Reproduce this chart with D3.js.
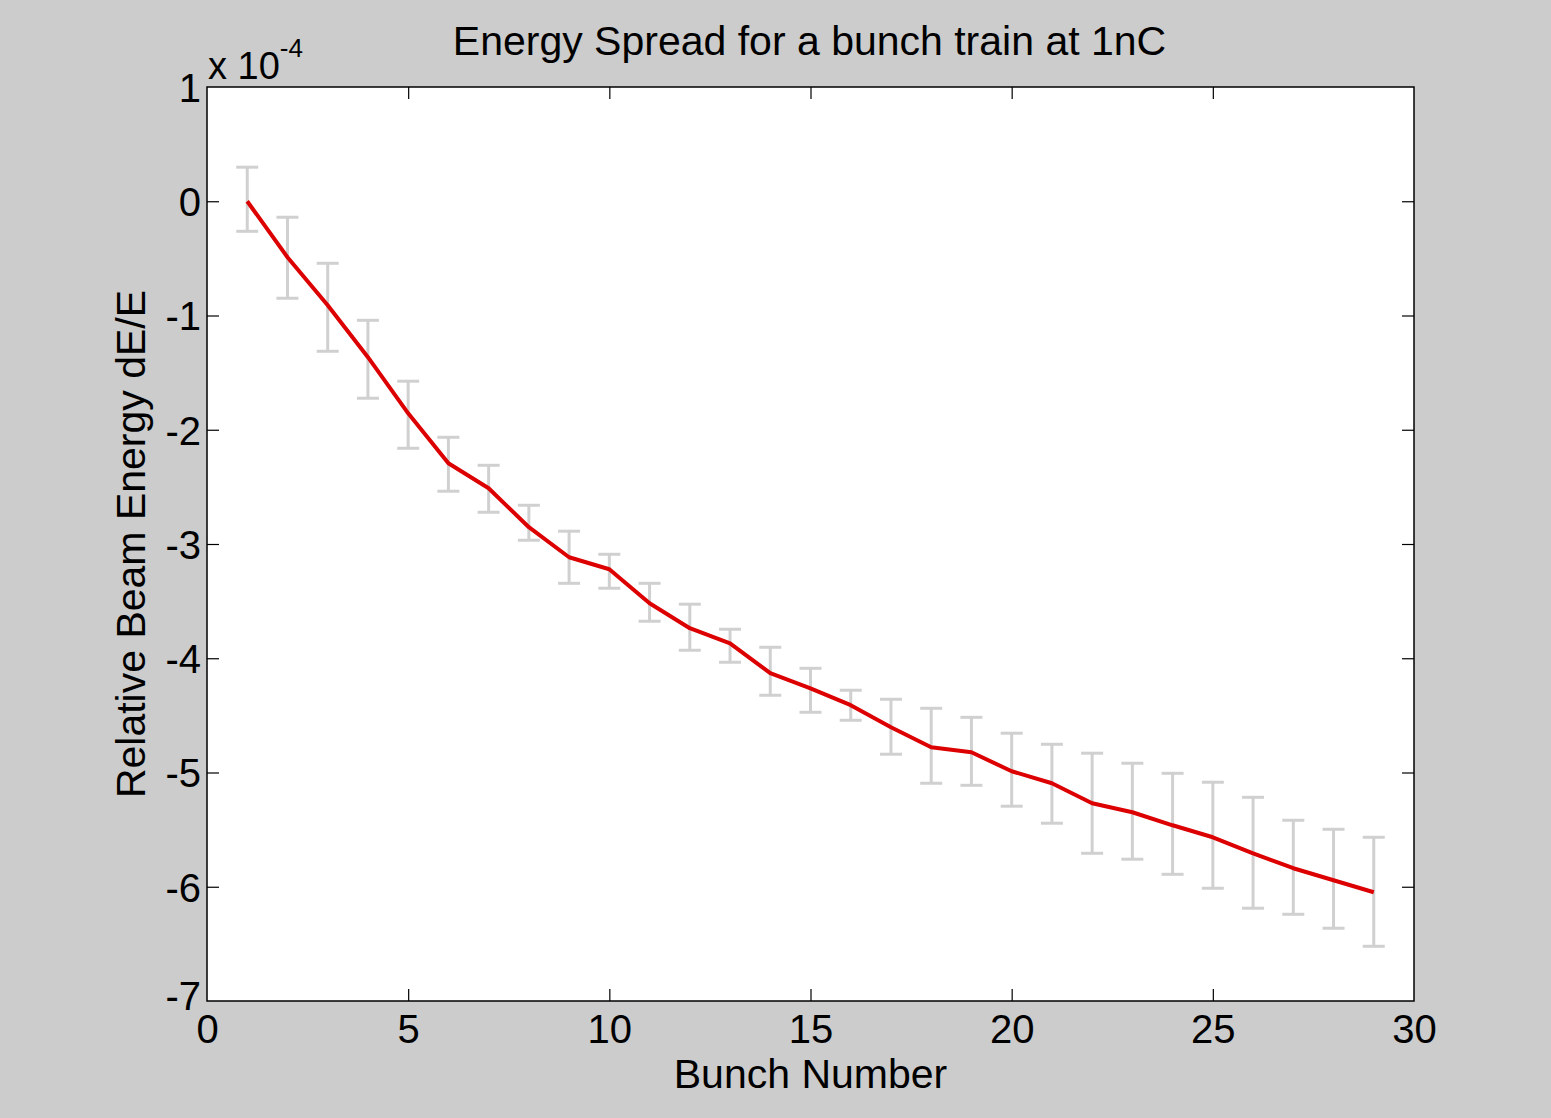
<!DOCTYPE html>
<html><head><meta charset="utf-8">
<script src="https://cdn.jsdelivr.net/npm/d3@7"></script>
<style>
html,body{margin:0;padding:0;background:#cccccc;}
svg{display:block;}
text{font-family:"Liberation Sans",Arial,sans-serif;fill:#000;}
</style></head><body>
<script>
const bunch = [1,2,3,4,5,6,7,8,9,10,11,12,13,14,15,16,17,18,19,20,21,22,23,24,25,26,27,28,29];
const energy = [0,-0.49,-0.91,-1.365,-1.856,-2.293,-2.512,-2.853,-3.116,-3.221,-3.519,-3.737,-3.869,-4.131,-4.263,-4.411,-4.604,-4.779,-4.823,-4.989,-5.094,-5.269,-5.348,-5.462,-5.567,-5.707,-5.838,-5.943,-6.048];
const errUpper = [0.298,-0.140,-0.543,-1.042,-1.575,-2.066,-2.311,-2.661,-2.888,-3.090,-3.344,-3.527,-3.746,-3.904,-4.088,-4.280,-4.359,-4.438,-4.517,-4.656,-4.753,-4.831,-4.919,-5.007,-5.085,-5.217,-5.418,-5.497,-5.567];
const errLower = [-0.263,-0.849,-1.313,-1.724,-2.162,-2.538,-2.722,-2.967,-3.344,-3.387,-3.676,-3.930,-4.035,-4.324,-4.473,-4.543,-4.840,-5.094,-5.112,-5.295,-5.444,-5.707,-5.759,-5.891,-6.013,-6.188,-6.241,-6.363,-6.521];
const xTicks = [0,5,10,15,20,25,30];
const yTicks = [1,0,-1,-2,-3,-4,-5,-6,-7];
const titleText = "Energy Spread for a bunch train at 1nC";
const xLabel = "Bunch Number";
const yLabel = "Relative Beam Energy dE/E";

const W = 1551, H = 1118;
const L = 207, R = 1414, T = 87, B = 1001;
const svg = d3.select("body").append("svg").attr("width", W).attr("height", H);
svg.append("rect").attr("width", W).attr("height", H).attr("fill", "#cccccc");

const x = d3.scaleLinear().domain([0,30]).range([L,R]);
const y = d3.scaleLinear().domain([-7,1]).range([B,T]);

svg.append("rect").attr("x", L).attr("y", T).attr("width", R-L).attr("height", B-T)
  .attr("fill", "#fff");

const tickLen = 12;
const fmt = d => String(d);
const gx = svg.append("g").attr("transform", `translate(0,${B})`)
  .call(d3.axisBottom(x).tickValues(xTicks).tickSize(-tickLen).tickPadding(tickLen+12).tickFormat(fmt));
const gxt = svg.append("g").attr("transform", `translate(0,${T})`)
  .call(d3.axisTop(x).tickValues(xTicks).tickSize(-tickLen).tickFormat(""));
const gy = svg.append("g").attr("transform", `translate(${L},0)`)
  .call(d3.axisLeft(y).tickValues(yTicks).tickSize(-tickLen).tickPadding(5).tickFormat(fmt));
const gyr = svg.append("g").attr("transform", `translate(${R},0)`)
  .call(d3.axisRight(y).tickValues(yTicks).tickSize(-tickLen).tickFormat(""));

[gx,gxt,gy,gyr].forEach(g=>{
  g.select(".domain").remove();
  g.selectAll(".tick line").attr("stroke","#000").attr("stroke-width",1.2);
  g.selectAll("text").attr("font-family","Liberation Sans, Arial, sans-serif").attr("font-size",40).attr("fill","#000");
});
gx.selectAll(".tick text").attr("dy","0.71em").attr("y", 14);
gy.selectAll(".tick text").attr("x", -6).attr("dy", "0.36em");
gy.selectAll(".tick").filter(d=>d===-7).select("text").attr("dy","0.2em");
gx.selectAll(".tick").filter(d=>d===0||d===30).select("line").remove();
gxt.selectAll(".tick").filter(d=>d===0||d===30).select("line").remove();
gy.selectAll(".tick").filter(d=>d===1||d===-7).select("line").remove();
gyr.selectAll(".tick").filter(d=>d===1||d===-7).select("line").remove();

// error bars
const cap = 11;
const eg = svg.append("g").attr("stroke","#d0d0d0").attr("stroke-width",3).attr("fill","none");
bunch.forEach((b,i)=>{
  eg.append("line").attr("x1",x(b)).attr("x2",x(b)).attr("y1",y(errUpper[i])).attr("y2",y(errLower[i]));
  eg.append("line").attr("x1",x(b)-cap).attr("x2",x(b)+cap).attr("y1",y(errUpper[i])).attr("y2",y(errUpper[i]));
  eg.append("line").attr("x1",x(b)-cap).attr("x2",x(b)+cap).attr("y1",y(errLower[i])).attr("y2",y(errLower[i]));
});

// line
const line = d3.line().x((d,i)=>x(bunch[i])).y(d=>y(d));
svg.append("path").datum(energy).attr("d", line).attr("fill","none")
  .attr("stroke","#dd0000").attr("stroke-width",4).attr("stroke-linejoin","round");

// frame
svg.append("rect").attr("x", L).attr("y", T).attr("width", R-L).attr("height", B-T)
  .attr("fill", "none").attr("stroke","#000").attr("stroke-width",1.5);

// exponent
const ex = svg.append("text").attr("x", 208).attr("y", 79).attr("font-size", 38);
ex.append("tspan").text("x 10");
ex.append("tspan").attr("font-size", 26).attr("dy", -22).text("-4");

svg.append("text").attr("x", (L+R)/2-1).attr("y", 55).attr("text-anchor","middle")
  .attr("font-size", 41).text(titleText);
svg.append("text").attr("x", (L+R)/2).attr("y", 1088).attr("text-anchor","middle")
  .attr("font-size", 41).text(xLabel);
svg.append("text").attr("transform", `translate(145,${(T+B)/2}) rotate(-90)`).attr("text-anchor","middle")
  .attr("font-size", 41).text(yLabel);
</script>
</body></html>
